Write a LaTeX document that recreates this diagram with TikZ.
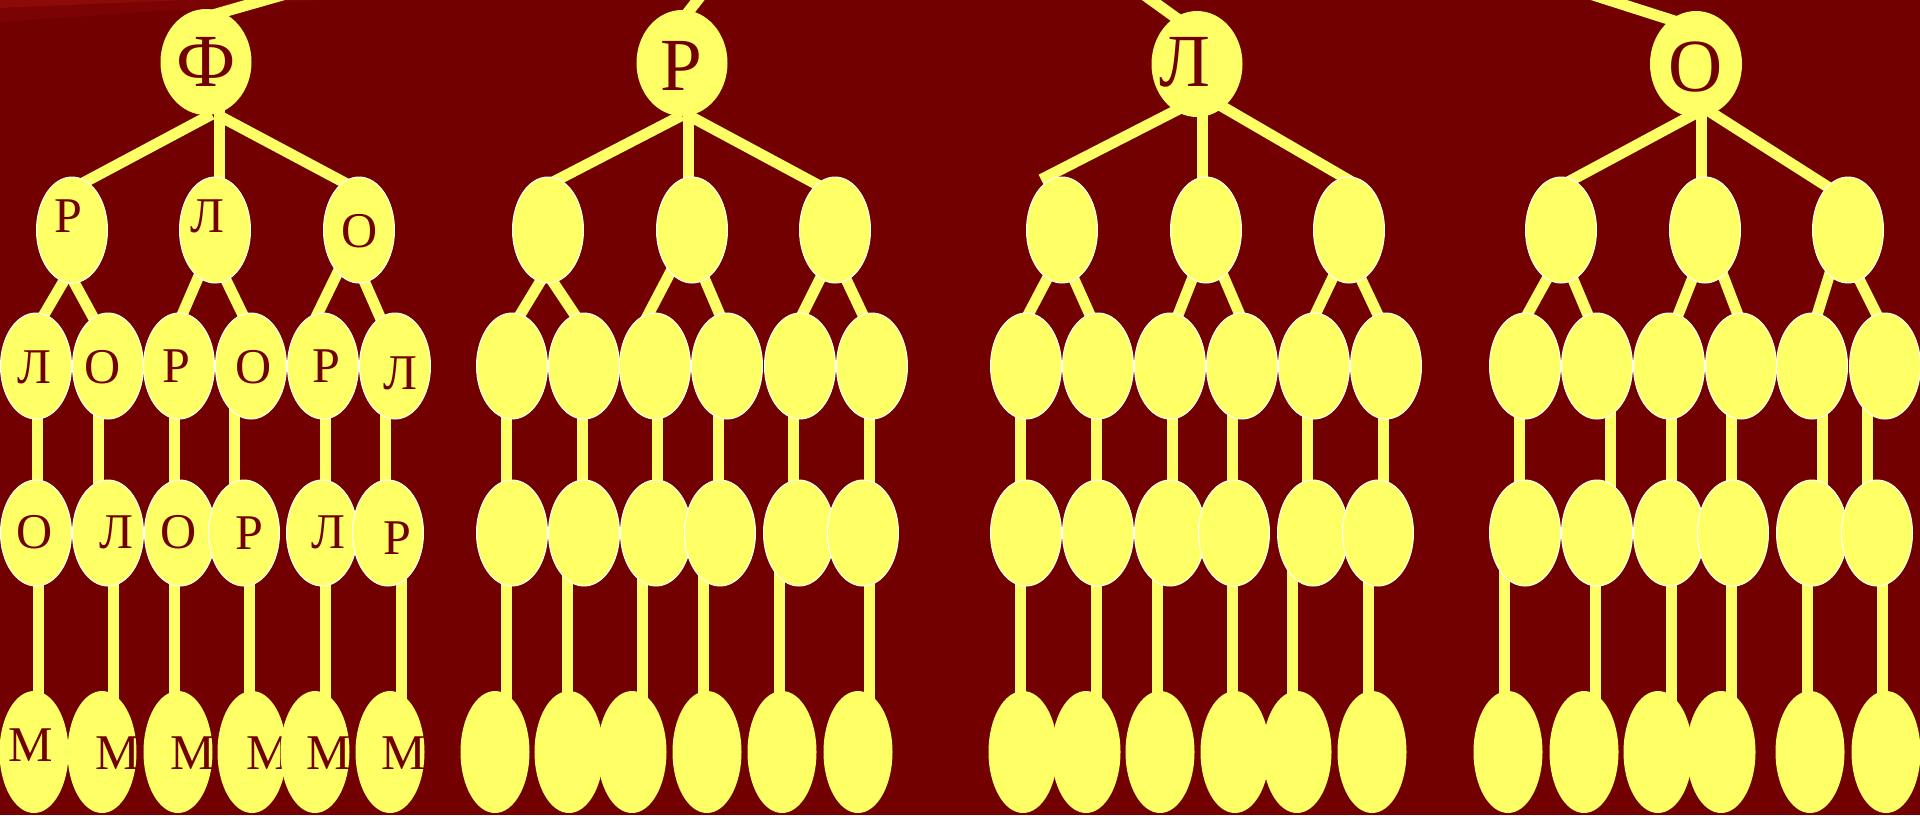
\documentclass[tikz,border=0pt]{standalone}
\usepackage{fontspec}
\setmainfont{Liberation Serif}
\usetikzlibrary{shapes.geometric,calc}
\definecolor{bgred}{HTML}{720000}
\definecolor{bandlight}{HTML}{8C0A0A}
\definecolor{bandmid}{HTML}{7C0303}
\definecolor{yel}{HTML}{FFFF66}
\pgfdeclarelayer{backlayer}
\pgfdeclarelayer{linelayer}
\pgfsetlayers{backlayer,linelayer,main}
\tikzset{
  conn/.style={draw=yel, line width=11pt, shorten <=-10pt, shorten >=-10pt},
  vconn/.style={draw=yel, line width=11pt},
  rootbub/.style={ellipse, fill=yel, inner sep=0pt, minimum width=91pt, minimum height=106pt},
  bub/.style={ellipse, fill=yel, draw=white, line width=1pt, inner sep=0pt, minimum width=71pt, minimum height=106pt},
  leaf/.style={ellipse, fill=yel, inner sep=0pt, minimum width=69pt, minimum height=122pt},
  ltr/.style={text=bgred, inner sep=0pt, font=\fontsize{50}{60}\selectfont},
  bigltr/.style={text=bgred, inner sep=0pt, font=\fontsize{75}{90}\selectfont},
}
\begin{document}
\begin{tikzpicture}[x=1pt,y=-1pt]
\useasboundingbox (0,0) rectangle (1920,815);
\begin{pgfonlayer}{backlayer}
\fill[bgred] (0,0) rectangle (1920,815);
\fill[bandmid] (0,8) -- (187,0) -- (320,0) -- (0,22) -- cycle;
\fill[bandlight] (0,0) -- (187,0) -- (0,8) -- cycle;
\end{pgfonlayer}

% ---------------- tree 1
\node[rootbub] (t1r) at (206,62) {};
\node[bigltr] (t1rl) at (206,62) {Ф};
\foreach \x/\lx/\ly/\s [count=\i] in {72/68.5/216/Р, 215/207/216/Л, 359/360/231/О}
  {\node[bub] (t1a\i) at (\x,230) {}; \node[ltr] (t1al\i) at (\lx,\ly) {\s};}
\foreach \x/\lx/\ly/\s [count=\i] in {36/34/367/Л, 108/103/367/О, 179/176/366/Р, 251/254/367/О, 323/326/366/Р, 395/400/373/Л}
  {\node[bub] (t1b\i) at (\x,366) {}; \node[ltr] (t1bl\i) at (\lx,\ly) {\s};}
\foreach \x/\lx/\ly/\s [count=\i] in {36/35/532/О, 108/116/532/Л, 180/179/532/О, 244/249/533/Р, 322/328/532/Л, 388/397/538/Р}
  {\node[bub] (t1c\i) at (\x,533) {}; \node[ltr] (t1cl\i) at (\lx,\ly) {\s};}
\foreach \x/\lx/\ly [count=\i] in {34/31/745, 102/118/753, 178/193/753, 252/269/753, 315/329/753, 390/404/753}
  {\node[leaf] (t1d\i) at (\x,752) {}; \node[ltr] (t1dl\i) at (\lx,\ly) {М};}

% ---------------- tree 2
\node[rootbub] (t2r) at (682,63) {};
\node[bigltr] (t2rl) at (681,66) {Р};
\foreach \x [count=\i] in {548,692,835} \node[bub] (t2a\i) at (\x,230) {};
\foreach \x [count=\i] in {512,584,655,727,800,872} \node[bub] (t2b\i) at (\x,366) {};
\foreach \x [count=\i] in {512,584,656,720,799,863} \node[bub] (t2c\i) at (\x,533) {};
\foreach \x [count=\i] in {495,569,632,707,782,858} \node[leaf] (t2d\i) at (\x,752) {};

% ---------------- tree 3
\node[rootbub] (t3r) at (1197,64) {};
\node[bigltr] (t3rl) at (1185,62) {Л};
\foreach \x [count=\i] in {1062,1206,1349} \node[bub] (t3a\i) at (\x,230) {};
\foreach \x [count=\i] in {1026,1098,1170,1242,1314,1386} \node[bub] (t3b\i) at (\x,366) {};
\foreach \x [count=\i] in {1026,1098,1170,1234,1313,1378} \node[bub] (t3c\i) at (\x,533) {};
\foreach \x [count=\i] in {1023,1086,1160,1235,1297,1372} \node[leaf] (t3d\i) at (\x,752) {};

% ---------------- tree 4
\node[rootbub, minimum width=92pt] (t4r) at (1696,64) {};
\node[bigltr] (t4rl) at (1696,67) {О};
\foreach \x [count=\i] in {1561,1705,1848} \node[bub] (t4a\i) at (\x,230) {};
\foreach \x [count=\i] in {1525,1597,1669,1741,1812,1885} \node[bub] (t4b\i) at (\x,366) {};
\foreach \x [count=\i] in {1525,1597,1669,1733,1812,1877} \node[bub] (t4c\i) at (\x,533) {};
\foreach \x [count=\i] in {1508,1584,1658,1721,1810,1886} \node[leaf] (t4d\i) at (\x,752) {};

% ---------------- connectors
\begin{pgfonlayer}{linelayer}
% tree 1
\coordinate (t1top) at (300,-10);
\draw[conn] (t1top) -- (t1r.72);
\draw[conn] ($(t1r)+(-3,57)$) -- ($(t1a1)+(11,-47)$);
\draw[vconn] (t1r.center -| 219,0) -- (t1a2.center -| 219,0);
\draw[conn] ($(t1r)+(19,57)$) -- ($(t1a3)+(-12,-46)$);
\foreach \p/\c/\px/\py/\cx/\cy in {1/1/-10/54/9/-53, 1/2/3/54/-15/-49, 2/3/-17/48/3/-51, 2/4/10/48/-8/-51, 3/5/-22/44/-6/-51, 3/6/3/46/-15/-49}
  \draw[conn] ($(t1a\p)+(\px,\py)$) -- ($(t1b\c)+(\cx,\cy)$);
\foreach \x [count=\i] in {37,98,174,234,325,385}
  \draw[vconn] (t1b\i.center -| \x,0) -- (t1c\i.center -| \x,0);
\foreach \x [count=\i] in {38,113,174,249,325,401}
  \draw[vconn] (t1c\i.center -| \x,0) -- (t1d\i.center -| \x,0);
% tree 2
\coordinate (t2top) at (707,-12);
\draw[conn] (t2top) -- (t2r.82);
\draw[conn] ($(t2r)+(-9,57)$) -- ($(t2a1)+(9,-50)$);
\draw[vconn] (t2r.center -| 688,0) -- (t2a2.center -| 688,0);
\draw[conn] ($(t2r)+(15,57)$) -- ($(t2a3)+(-17,-45)$);
\foreach \p/\c/\px/\py/\cx/\cy in {1/1/-8/52/8/-51, 1/2/5/52/-9/-51, 2/3/-22/43/-7/-51, 2/4/10/43/-7/-51, 3/5/-12/43/2/-51, 3/6/10/47/-9/-51}
  \draw[conn] ($(t2a\p)+(\px,\py)$) -- ($(t2b\c)+(\cx,\cy)$);
\foreach \x [count=\i] in {506,582,657,718,793,869}
  \draw[vconn] (t2b\i.center -| \x,0) -- (t2c\i.center -| \x,0);
\foreach \x [count=\i] in {506,567,642,703,779,869}
  \draw[vconn] (t2c\i.center -| \x,0) -- (t2d\i.center -| \x,0);
% tree 3
\coordinate (t3top) at (1136,-11);
\draw[conn] (t3top) -- (t3r.115);
\draw[conn] ($(t3r)+(-20,46)$) -- ($(t3a1)+(-12,-55)$);
\draw[vconn] (t3r.center -| 1202,0) -- (t3a2.center -| 1202,0);
\draw[conn] ($(t3r)+(26,43)$) -- ($(t3a3)+(3,-48)$);
\foreach \p/\c/\px/\py/\cx/\cy in {1/1/-14/47/2/-51, 1/2/11/47/-8/-51, 2/3/-13/47/8/-51, 2/4/16/43/-2/-51, 3/5/-14/43/1/-51, 3/6/11/47/-8/-51}
  \draw[conn] ($(t3a\p)+(\px,\py)$) -- ($(t3b\c)+(\cx,\cy)$);
\foreach \x [count=\i] in {1020,1096,1172,1232,1307,1383}
  \draw[vconn] (t3b\i.center -| \x,0) -- (t3c\i.center -| \x,0);
\foreach \x [count=\i] in {1020,1096,1157,1232,1292,1368}
  \draw[vconn] (t3c\i.center -| \x,0) -- (t3d\i.center -| \x,0);
% tree 4
\coordinate (t4top) at (1590,-6);
\draw[conn] (t4top) -- (t4r.120);
\draw[conn] ($(t4r)+(-9,54)$) -- ($(t4a1)+(7,-48)$);
\draw[vconn] (t4r.center -| 1701,0) -- (t4a2.center -| 1701,0);
\draw[conn] ($(t4r)+(19,51)$) -- ($(t4a3)+(-20,-43)$);
\foreach \p/\c/\px/\py/\cx/\cy in {1/1/-13/47/2/-51, 1/2/11/47/-9/-51, 2/3/-12/47/9/-51, 2/4/17/43/-3/-51, 3/5/-18/43/5/-51, 3/6/10/47/-8/-51}
  \draw[conn] ($(t4a\p)+(\px,\py)$) -- ($(t4b\c)+(\cx,\cy)$);
\foreach \x [count=\i] in {1519,1610,1671,1731,1822,1867}
  \draw[vconn] (t4b\i.center -| \x,0) -- (t4c\i.center -| \x,0);
\foreach \x [count=\i] in {1504,1595,1671,1731,1807,1882}
  \draw[vconn] (t4c\i.center -| \x,0) -- (t4d\i.center -| \x,0);
\end{pgfonlayer}
\end{tikzpicture}
\end{document}
